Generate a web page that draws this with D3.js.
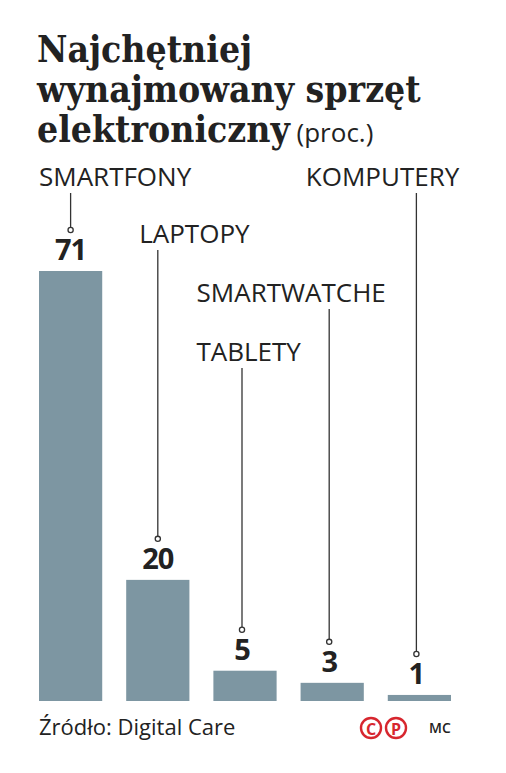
<!DOCTYPE html>
<html><head><meta charset="utf-8">
<script src="https://cdn.jsdelivr.net/npm/d3@7"></script>
<style>
html,body{margin:0;padding:0;background:#fff;}
svg{display:block;}
</style></head>
<body>
<script>
const titleLines = ["Najchętniej", "wynajmowany sprzęt", "elektroniczny"];
const titleUnit = "(proc.)";
const categories = ["SMARTFONY", "LAPTOPY", "TABLETY", "SMARTWATCHE", "KOMPUTERY"];
const values = [71, 20, 5, 3, 1];
const sourceText = "Źródło: Digital Care";
const authorText = "MC";

const W = 506, H = 773;
const barColor = "#7d96a2";
const ink = "#222";

const svg = d3.select("body").append("svg").attr("width", W).attr("height", H);

// title
const title = svg.append("text")
  .attr("font-family", "DejaVu Serif").attr("font-weight", "bold")
  .attr("font-stretch", "condensed")
  .attr("font-size", 37).attr("fill", ink);
titleLines.forEach((t, i) => {
  const ts = title.append("tspan").attr("x", 37).attr("y", 62 + i * 40).text(t);
  if (i === titleLines.length - 1) {
    ts.append("tspan").attr("font-family", "Open Sans").attr("font-weight", 400)
      .attr("font-stretch", "normal").attr("font-size", 26).text(" " + titleUnit);
  }
});

const x = d3.scaleBand().domain(categories).range([39, 451]).paddingInner(0.275).paddingOuter(0);
const y = d3.scaleLinear().domain([0, d3.max(values)]).range([701, 271]);

const data = categories.map((c, i) => ({ c, v: values[i] }));

// bars
svg.append("g").selectAll("rect").data(data).join("rect")
  .attr("x", d => x(d.c)).attr("width", x.bandwidth())
  .attr("y", d => y(d.v)).attr("height", d => y(0) - y(d.v))
  .attr("fill", barColor);

// category label layout: offset from band start, baseline y
const labelLayout = {
  "SMARTFONY": { dx: 0, base: 186 },
  "LAPTOPY": { dx: 13, base: 243 },
  "TABLETY": { dx: -17, base: 361 },
  "SMARTWATCHE": { dx: -104, base: 302 },
  "KOMPUTERY": { dx: -82, base: 186 }
};

const g = svg.append("g");
data.forEach(d => {
  const cx = x(d.c) + x.bandwidth() / 2 - (d.v < 10 ? 3 : 0);
  const L = labelLayout[d.c];
  const valBase = y(d.v) - 11;
  const circY = valBase - 30;
  g.append("text").attr("x", x(d.c) + L.dx).attr("y", L.base)
    .attr("font-family", "Open Sans").attr("font-size", 26).attr("fill", ink)
    .text(d.c);
  g.append("line").attr("x1", cx).attr("x2", cx)
    .attr("y1", L.base + 7).attr("y2", circY - 2.5)
    .attr("stroke", "#333").attr("stroke-width", 1.3);
  g.append("circle").attr("cx", cx).attr("cy", circY).attr("r", 2.6)
    .attr("fill", "#fff").attr("stroke", "#333").attr("stroke-width", 1.3);
  g.append("text").attr("x", cx).attr("y", valBase).attr("text-anchor", "middle")
    .attr("font-family", "Open Sans").attr("font-weight", "bold").attr("font-size", 29)
    .attr("letter-spacing", -1).attr("fill", ink).text(d.v);
});

// footer
svg.append("text").attr("x", 39).attr("y", 735)
  .attr("font-family", "Open Sans").attr("font-size", 22).attr("fill", ink).text(sourceText);

const red = "#d7262e";
[["C", 371], ["P", 396]].forEach(([s, cx]) => {
  svg.append("circle").attr("cx", cx).attr("cy", 728).attr("r", 10)
    .attr("fill", "none").attr("stroke", red).attr("stroke-width", 2.4);
  svg.append("text").attr("x", cx).attr("y", 734.5).attr("text-anchor", "middle")
    .attr("font-family", "Open Sans").attr("font-weight", "bold").attr("font-size", 16)
    .attr("fill", red).text(s);
});
svg.append("text").attr("x", 429).attr("y", 733)
  .attr("font-family", "Open Sans").attr("font-weight", 600).attr("font-size", 14)
  .attr("fill", ink).text(authorText);
</script>
</body></html>
